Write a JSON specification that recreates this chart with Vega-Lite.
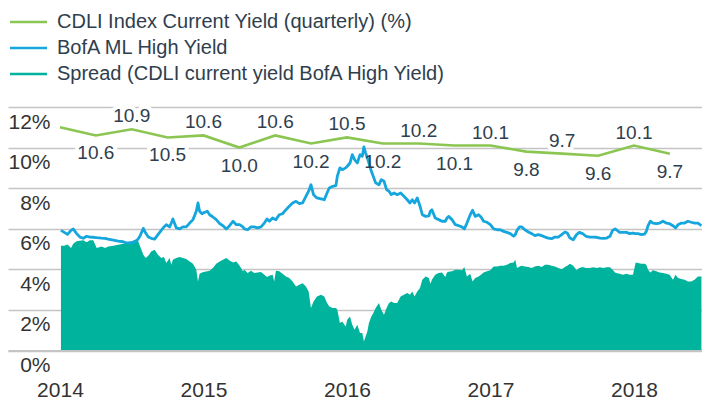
{
  "$schema": "https://vega.github.io/schema/vega-lite/v6.json",
  "width": 694,
  "height": 243.5,
  "autosize": "none",
  "padding": {"left": 8, "top": 107, "right": 0, "bottom": 49.5},
  "config": {"view": {"stroke": null}, "font": "Liberation Sans"},
  "datasets": {
    "cdli": [
      {"t": 2014.0, "cdli": 11.0}, {"t": 2014.25, "cdli": 10.6}, {"t": 2014.5, "cdli": 10.9}, {"t": 2014.75, "cdli": 10.5},
      {"t": 2015.0, "cdli": 10.6}, {"t": 2015.25, "cdli": 10.0}, {"t": 2015.5, "cdli": 10.6}, {"t": 2015.75, "cdli": 10.2},
      {"t": 2016.0, "cdli": 10.5}, {"t": 2016.25, "cdli": 10.2}, {"t": 2016.5, "cdli": 10.2}, {"t": 2016.75, "cdli": 10.1},
      {"t": 2017.0, "cdli": 10.1}, {"t": 2017.25, "cdli": 9.8}, {"t": 2017.5, "cdli": 9.7}, {"t": 2017.75, "cdli": 9.6},
      {"t": 2018.0, "cdli": 10.1}, {"t": 2018.25, "cdli": 9.7}
    ],
    "market": [
      {"t": 2014.007, "hy": 5.92, "spread": 5.16}, {"t": 2014.030, "hy": 5.82, "spread": 5.16}, {"t": 2014.053, "hy": 5.72, "spread": 5.23},
      {"t": 2014.077, "hy": 5.92, "spread": 5.05}, {"t": 2014.093, "hy": 5.99, "spread": 5.26}, {"t": 2014.116, "hy": 5.76, "spread": 5.38},
      {"t": 2014.139, "hy": 5.59, "spread": 5.41}, {"t": 2014.163, "hy": 5.53, "spread": 5.43}, {"t": 2014.186, "hy": 5.63, "spread": 5.33},
      {"t": 2014.209, "hy": 5.59, "spread": 5.43}, {"t": 2014.232, "hy": 5.58, "spread": 5.43}, {"t": 2014.256, "hy": 5.56, "spread": 5.05},
      {"t": 2014.290, "hy": 5.54, "spread": 5.13}, {"t": 2014.314, "hy": 5.53, "spread": 5.05}, {"t": 2014.337, "hy": 5.49, "spread": 5.13},
      {"t": 2014.372, "hy": 5.44, "spread": 5.16}, {"t": 2014.406, "hy": 5.39, "spread": 5.21}, {"t": 2014.441, "hy": 5.36, "spread": 5.26},
      {"t": 2014.465, "hy": 5.30, "spread": 5.33}, {"t": 2014.499, "hy": 5.30, "spread": 5.38}, {"t": 2014.523, "hy": 5.36, "spread": 5.46},
      {"t": 2014.541, "hy": 5.46, "spread": 5.46}, {"t": 2014.557, "hy": 5.63, "spread": 5.16}, {"t": 2014.581, "hy": 6.02, "spread": 4.72},
      {"t": 2014.597, "hy": 5.79, "spread": 4.56}, {"t": 2014.616, "hy": 5.59, "spread": 4.67}, {"t": 2014.636, "hy": 5.53, "spread": 4.88},
      {"t": 2014.660, "hy": 5.49, "spread": 4.97}, {"t": 2014.683, "hy": 5.71, "spread": 4.72}, {"t": 2014.706, "hy": 5.92, "spread": 4.56},
      {"t": 2014.725, "hy": 6.09, "spread": 4.61}, {"t": 2014.741, "hy": 6.20, "spread": 4.31}, {"t": 2014.764, "hy": 6.09, "spread": 4.56},
      {"t": 2014.776, "hy": 6.28, "spread": 4.23}, {"t": 2014.787, "hy": 6.48, "spread": 4.47}, {"t": 2014.811, "hy": 6.04, "spread": 4.56},
      {"t": 2014.834, "hy": 5.99, "spread": 4.61}, {"t": 2014.857, "hy": 6.09, "spread": 4.56}, {"t": 2014.880, "hy": 6.09, "spread": 4.51},
      {"t": 2014.904, "hy": 6.28, "spread": 4.39}, {"t": 2014.927, "hy": 6.45, "spread": 4.28}, {"t": 2014.950, "hy": 6.86, "spread": 3.98},
      {"t": 2014.962, "hy": 7.27, "spread": 3.40}, {"t": 2014.973, "hy": 6.86, "spread": 3.78}, {"t": 2014.990, "hy": 6.74, "spread": 3.85},
      {"t": 2015.008, "hy": 6.81, "spread": 3.88}, {"t": 2015.027, "hy": 6.86, "spread": 3.90}, {"t": 2015.043, "hy": 6.69, "spread": 3.93},
      {"t": 2015.066, "hy": 6.58, "spread": 4.06}, {"t": 2015.089, "hy": 6.45, "spread": 4.28}, {"t": 2015.113, "hy": 6.25, "spread": 4.39},
      {"t": 2015.136, "hy": 6.15, "spread": 4.47}, {"t": 2015.159, "hy": 5.99, "spread": 4.56}, {"t": 2015.182, "hy": 6.15, "spread": 4.44},
      {"t": 2015.206, "hy": 6.37, "spread": 4.34}, {"t": 2015.229, "hy": 6.20, "spread": 4.39}, {"t": 2015.252, "hy": 6.20, "spread": 4.18},
      {"t": 2015.275, "hy": 6.09, "spread": 3.90}, {"t": 2015.285, "hy": 5.99, "spread": 3.98}, {"t": 2015.308, "hy": 5.95, "spread": 3.82},
      {"t": 2015.331, "hy": 6.09, "spread": 3.93}, {"t": 2015.354, "hy": 6.09, "spread": 3.82}, {"t": 2015.377, "hy": 6.04, "spread": 3.85},
      {"t": 2015.401, "hy": 6.09, "spread": 3.87}, {"t": 2015.424, "hy": 6.28, "spread": 3.73}, {"t": 2015.443, "hy": 6.48, "spread": 3.62},
      {"t": 2015.459, "hy": 6.37, "spread": 3.68}, {"t": 2015.482, "hy": 6.53, "spread": 3.73}, {"t": 2015.493, "hy": 6.48, "spread": 3.40},
      {"t": 2015.505, "hy": 6.45, "spread": 3.93}, {"t": 2015.528, "hy": 6.69, "spread": 3.90}, {"t": 2015.551, "hy": 6.74, "spread": 3.78},
      {"t": 2015.575, "hy": 6.94, "spread": 3.65}, {"t": 2015.598, "hy": 7.11, "spread": 3.57}, {"t": 2015.621, "hy": 7.27, "spread": 3.40},
      {"t": 2015.645, "hy": 7.35, "spread": 3.16}, {"t": 2015.668, "hy": 7.24, "spread": 3.24}, {"t": 2015.691, "hy": 7.27, "spread": 3.32},
      {"t": 2015.714, "hy": 7.60, "spread": 3.16}, {"t": 2015.733, "hy": 7.85, "spread": 2.91}, {"t": 2015.749, "hy": 8.17, "spread": 2.09},
      {"t": 2015.767, "hy": 7.68, "spread": 2.42}, {"t": 2015.791, "hy": 7.52, "spread": 2.66}, {"t": 2015.819, "hy": 7.47, "spread": 2.75},
      {"t": 2015.842, "hy": 7.43, "spread": 2.66}, {"t": 2015.861, "hy": 7.76, "spread": 2.34}, {"t": 2015.877, "hy": 8.01, "spread": 2.17},
      {"t": 2015.900, "hy": 8.09, "spread": 2.09}, {"t": 2015.923, "hy": 8.13, "spread": 2.09}, {"t": 2015.933, "hy": 8.59, "spread": 2.01},
      {"t": 2015.951, "hy": 9.00, "spread": 1.35}, {"t": 2015.967, "hy": 8.91, "spread": 1.43}, {"t": 2015.991, "hy": 9.00, "spread": 1.18},
      {"t": 2016.002, "hy": 9.08, "spread": 1.51}, {"t": 2016.021, "hy": 9.24, "spread": 1.68}, {"t": 2016.037, "hy": 9.65, "spread": 1.27},
      {"t": 2016.053, "hy": 9.41, "spread": 1.02}, {"t": 2016.072, "hy": 9.24, "spread": 1.27}, {"t": 2016.091, "hy": 9.65, "spread": 0.86},
      {"t": 2016.107, "hy": 9.57, "spread": 0.86}, {"t": 2016.118, "hy": 10.03, "spread": 0.44}, {"t": 2016.130, "hy": 9.74, "spread": 0.69},
      {"t": 2016.142, "hy": 9.49, "spread": 0.94}, {"t": 2016.153, "hy": 9.24, "spread": 1.35}, {"t": 2016.170, "hy": 8.83, "spread": 1.68},
      {"t": 2016.183, "hy": 8.59, "spread": 1.84}, {"t": 2016.200, "hy": 8.26, "spread": 2.09}, {"t": 2016.223, "hy": 8.17, "spread": 2.34},
      {"t": 2016.239, "hy": 8.42, "spread": 2.01}, {"t": 2016.258, "hy": 8.34, "spread": 1.76}, {"t": 2016.276, "hy": 7.93, "spread": 2.09},
      {"t": 2016.293, "hy": 7.85, "spread": 2.34}, {"t": 2016.309, "hy": 7.68, "spread": 2.42}, {"t": 2016.328, "hy": 7.76, "spread": 2.34},
      {"t": 2016.350, "hy": 7.68, "spread": 2.34}, {"t": 2016.374, "hy": 7.76, "spread": 2.66}, {"t": 2016.397, "hy": 7.60, "spread": 2.75},
      {"t": 2016.420, "hy": 7.43, "spread": 2.83}, {"t": 2016.439, "hy": 7.27, "spread": 2.75}, {"t": 2016.455, "hy": 7.43, "spread": 2.91},
      {"t": 2016.471, "hy": 7.27, "spread": 2.66}, {"t": 2016.490, "hy": 7.52, "spread": 2.91}, {"t": 2016.509, "hy": 7.11, "spread": 3.08},
      {"t": 2016.525, "hy": 6.69, "spread": 3.49}, {"t": 2016.548, "hy": 6.61, "spread": 3.65}, {"t": 2016.571, "hy": 6.64, "spread": 3.57},
      {"t": 2016.581, "hy": 6.86, "spread": 3.29}, {"t": 2016.592, "hy": 6.94, "spread": 3.49}, {"t": 2016.615, "hy": 6.53, "spread": 3.73},
      {"t": 2016.639, "hy": 6.45, "spread": 3.82}, {"t": 2016.662, "hy": 6.37, "spread": 3.85}, {"t": 2016.685, "hy": 6.37, "spread": 3.62},
      {"t": 2016.697, "hy": 6.53, "spread": 3.85}, {"t": 2016.708, "hy": 6.61, "spread": 3.88}, {"t": 2016.732, "hy": 6.45, "spread": 3.90},
      {"t": 2016.755, "hy": 6.20, "spread": 3.98}, {"t": 2016.778, "hy": 6.15, "spread": 3.98}, {"t": 2016.801, "hy": 6.09, "spread": 3.95},
      {"t": 2016.818, "hy": 5.99, "spread": 4.10}, {"t": 2016.836, "hy": 6.28, "spread": 3.65}, {"t": 2016.859, "hy": 6.69, "spread": 3.78},
      {"t": 2016.875, "hy": 6.91, "spread": 3.40}, {"t": 2016.894, "hy": 6.61, "spread": 3.57}, {"t": 2016.917, "hy": 6.69, "spread": 3.65},
      {"t": 2016.934, "hy": 6.58, "spread": 3.73}, {"t": 2016.952, "hy": 6.37, "spread": 3.85}, {"t": 2016.976, "hy": 6.32, "spread": 3.90},
      {"t": 2016.999, "hy": 6.20, "spread": 3.95}, {"t": 2017.022, "hy": 5.99, "spread": 4.14}, {"t": 2017.045, "hy": 5.95, "spread": 4.14},
      {"t": 2017.068, "hy": 5.95, "spread": 4.18}, {"t": 2017.092, "hy": 5.87, "spread": 4.18}, {"t": 2017.115, "hy": 5.82, "spread": 4.23},
      {"t": 2017.138, "hy": 5.76, "spread": 4.31}, {"t": 2017.161, "hy": 5.63, "spread": 4.34}, {"t": 2017.173, "hy": 5.71, "spread": 4.47},
      {"t": 2017.185, "hy": 5.92, "spread": 4.06}, {"t": 2017.203, "hy": 6.09, "spread": 4.14}, {"t": 2017.217, "hy": 6.09, "spread": 4.18},
      {"t": 2017.240, "hy": 5.95, "spread": 4.14}, {"t": 2017.264, "hy": 5.84, "spread": 4.11}, {"t": 2017.287, "hy": 5.76, "spread": 4.06},
      {"t": 2017.310, "hy": 5.66, "spread": 4.14}, {"t": 2017.333, "hy": 5.71, "spread": 4.18}, {"t": 2017.357, "hy": 5.66, "spread": 4.11},
      {"t": 2017.380, "hy": 5.59, "spread": 4.23}, {"t": 2017.403, "hy": 5.54, "spread": 4.23}, {"t": 2017.426, "hy": 5.51, "spread": 4.18},
      {"t": 2017.449, "hy": 5.59, "spread": 4.14}, {"t": 2017.473, "hy": 5.59, "spread": 4.06}, {"t": 2017.496, "hy": 5.71, "spread": 4.01},
      {"t": 2017.519, "hy": 5.84, "spread": 4.11}, {"t": 2017.535, "hy": 5.79, "spread": 4.18}, {"t": 2017.554, "hy": 5.54, "spread": 4.28},
      {"t": 2017.577, "hy": 5.46, "spread": 4.18}, {"t": 2017.600, "hy": 5.71, "spread": 3.95}, {"t": 2017.619, "hy": 5.82, "spread": 4.06},
      {"t": 2017.642, "hy": 5.76, "spread": 4.11}, {"t": 2017.666, "hy": 5.63, "spread": 4.06}, {"t": 2017.693, "hy": 5.59, "spread": 4.06},
      {"t": 2017.717, "hy": 5.59, "spread": 4.10}, {"t": 2017.740, "hy": 5.58, "spread": 4.06}, {"t": 2017.763, "hy": 5.54, "spread": 4.10},
      {"t": 2017.786, "hy": 5.53, "spread": 4.06}, {"t": 2017.810, "hy": 5.54, "spread": 4.10}, {"t": 2017.833, "hy": 5.63, "spread": 4.10},
      {"t": 2017.851, "hy": 5.92, "spread": 3.98}, {"t": 2017.868, "hy": 5.99, "spread": 3.85}, {"t": 2017.877, "hy": 5.95, "spread": 3.82},
      {"t": 2017.900, "hy": 5.82, "spread": 3.78}, {"t": 2017.923, "hy": 5.82, "spread": 3.73}, {"t": 2017.947, "hy": 5.82, "spread": 3.78},
      {"t": 2017.970, "hy": 5.76, "spread": 3.73}, {"t": 2017.993, "hy": 5.79, "spread": 3.73}, {"t": 2018.012, "hy": 5.76, "spread": 4.34},
      {"t": 2018.028, "hy": 5.76, "spread": 4.31}, {"t": 2018.051, "hy": 5.71, "spread": 4.28}, {"t": 2018.074, "hy": 5.74, "spread": 4.28},
      {"t": 2018.086, "hy": 5.87, "spread": 4.23}, {"t": 2018.098, "hy": 6.15, "spread": 3.98}, {"t": 2018.114, "hy": 6.37, "spread": 3.85},
      {"t": 2018.132, "hy": 6.28, "spread": 3.95}, {"t": 2018.156, "hy": 6.25, "spread": 3.90}, {"t": 2018.179, "hy": 6.28, "spread": 3.85},
      {"t": 2018.202, "hy": 6.37, "spread": 3.82}, {"t": 2018.225, "hy": 6.28, "spread": 3.78}, {"t": 2018.248, "hy": 6.25, "spread": 3.73},
      {"t": 2018.272, "hy": 6.15, "spread": 3.49}, {"t": 2018.290, "hy": 6.04, "spread": 3.73}, {"t": 2018.307, "hy": 6.20, "spread": 3.57},
      {"t": 2018.330, "hy": 6.28, "spread": 3.52}, {"t": 2018.353, "hy": 6.28, "spread": 3.49}, {"t": 2018.376, "hy": 6.37, "spread": 3.40},
      {"t": 2018.399, "hy": 6.32, "spread": 3.40}, {"t": 2018.422, "hy": 6.28, "spread": 3.49}, {"t": 2018.446, "hy": 6.28, "spread": 3.65},
      {"t": 2018.470, "hy": 6.15, "spread": 3.65}
    ]
  },
  "encoding": {
    "x": {
      "field": "t", "type": "quantitative",
      "scale": {"domain": [2013.638, 2018.474], "nice": false, "zero": false},
      "axis": {"title": null, "values": [2014, 2015, 2016, 2017, 2018], "format": "d", "domain": true, "domainColor": "#c4c4c4", "domainWidth": 2, "ticks": false, "tickSize": 0, "labelPadding": 28.5, "labelFontSize": 21, "labelColor": "#333333", "labelFont": "Liberation Sans", "labelFlush": false, "grid": false, "zindex": 1}
    }
  },
  "layer": [
    {
      "data": {"name": "market"},
      "mark": {"type": "area", "opacity": 1},
      "encoding": {
        "y": {"field": "spread", "type": "quantitative", "scale": {"domain": [0, 12], "nice": false},
          "axis": {"title": null, "tickCount": 6, "labelExpr": "datum.value + '%'", "domain": false, "ticks": false, "tickSize": 0, "labelAlign": "right", "labelBaseline": "top", "labelPadding": -42, "labelOffset": 4, "labelFontSize": 21, "labelColor": "#333333", "labelFont": "Liberation Sans", "grid": true, "gridColor": "#c4c4c4", "gridWidth": 1.5, "labelFlush": false, "labelOverlap": false, "labelBound": false, "zindex": 0}},
        "color": {
          "datum": "Spread (CDLI current yield BofA High Yield)",
          "scale": {"domain": ["CDLI Index Current Yield (quarterly) (%)", "BofA ML High Yield", "Spread (CDLI current yield BofA High Yield)"], "range": ["#8cc652", "#14a6dd", "#00b39c"]},
          "legend": {
            "orient": "none", "legendX": 10, "legendY": -95.5, "direction": "vertical", "title": null,
            "padding": 0, "symbolType": "M-2,0H2", "symbolSize": 342, "symbolStrokeWidth": 2.5,
            "labelFont": "Liberation Sans", "labelFontSize": 20, "labelColor": "#2f3e4d", "labelOffset": 18, "labelLimit": 600, "rowPadding": 5,
            "encode": {"symbols": {"update": {
              "shape": {"signal": "datum.value === 'CDLI Index Current Yield (quarterly) (%)' ? 'M-2,0H2M-0.45,-0.34H0.45V0.34H-0.45Z' : 'M-2,0H2'"},
              "strokeWidth": {"signal": "datum.value === 'Spread (CDLI current yield BofA High Yield)' ? 7.5 : 3"},
              "stroke": {"signal": "scale('color', datum.value)"},
              "fill": {"signal": "scale('color', datum.value)"},
              "opacity": {"value": 1}, "fillOpacity": {"value": 1}, "strokeOpacity": {"value": 1}
            }}}
          }
        }
      }
    },
    {
      "data": {"name": "cdli"},
      "transform": [{"filter": "round((datum.t - 2014) * 4) % 2 == 1"}],
      "mark": {"type": "text", "dy": 18, "fontSize": 19, "font": "Liberation Sans", "fill": "white", "stroke": "white", "strokeWidth": 8, "strokeJoin": "round", "baseline": "middle"},
      "encoding": {"y": {"field": "cdli", "type": "quantitative", "title": null}, "text": {"field": "cdli", "type": "quantitative", "format": ".1f"}}
    },
    {
      "data": {"name": "cdli"},
      "transform": [{"filter": "round((datum.t - 2014) * 4) % 2 == 0 && datum.t > 2014"}],
      "mark": {"type": "text", "dy": -13, "fontSize": 19, "font": "Liberation Sans", "fill": "white", "stroke": "white", "strokeWidth": 8, "strokeJoin": "round", "baseline": "middle"},
      "encoding": {"y": {"field": "cdli", "type": "quantitative", "title": null}, "text": {"field": "cdli", "type": "quantitative", "format": ".1f"}}
    },
    {
      "data": {"name": "market"},
      "mark": {"type": "line", "strokeWidth": 2.8, "strokeJoin": "round"},
      "encoding": {
        "y": {"field": "hy", "type": "quantitative", "title": null},
        "color": {"datum": "BofA ML High Yield"}
      }
    },
    {
      "data": {"name": "cdli"},
      "mark": {"type": "line", "strokeWidth": 2.6},
      "encoding": {
        "y": {"field": "cdli", "type": "quantitative", "title": null},
        "color": {"datum": "CDLI Index Current Yield (quarterly) (%)"}
      }
    },
    {
      "data": {"name": "cdli"},
      "transform": [{"filter": "round((datum.t - 2014) * 4) % 2 == 1"}],
      "mark": {"type": "text", "dy": 18, "fontSize": 19, "font": "Liberation Sans", "color": "#2f3e4d", "baseline": "middle"},
      "encoding": {"y": {"field": "cdli", "type": "quantitative", "title": null}, "text": {"field": "cdli", "type": "quantitative", "format": ".1f"}}
    },
    {
      "data": {"name": "cdli"},
      "transform": [{"filter": "round((datum.t - 2014) * 4) % 2 == 0 && datum.t > 2014"}],
      "mark": {"type": "text", "dy": -13, "fontSize": 19, "font": "Liberation Sans", "color": "#2f3e4d", "baseline": "middle"},
      "encoding": {"y": {"field": "cdli", "type": "quantitative", "title": null}, "text": {"field": "cdli", "type": "quantitative", "format": ".1f"}}
    }
  ]
}
